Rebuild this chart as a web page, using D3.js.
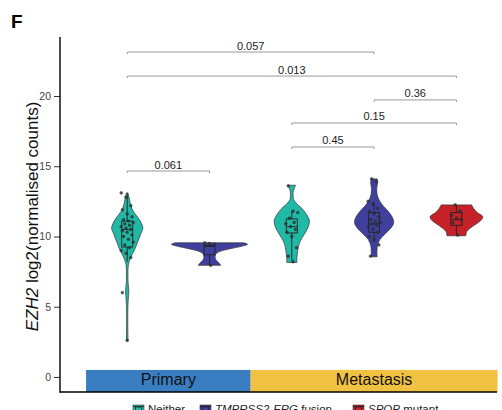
<!DOCTYPE html>
<html>
<head>
<meta charset="utf-8">
<script src="https://cdn.jsdelivr.net/npm/d3@7"></script>
<style>
  html, body { margin: 0; padding: 0; background: #fff; }
  svg { display: block; font-family: "Liberation Sans", Arial, sans-serif; }
</style>
</head>
<body>
<svg id="chart" width="502" height="410"></svg>
<script>
// ---- data ----
const groupTissue   = ["Primary", "Primary", "Metastasis", "Metastasis", "Metastasis"];
const groupGenotype = ["Neither", "TMPRSS2-ERG fusion", "Neither", "TMPRSS2-ERG fusion", "SPOP mutant"];
const tissues   = ["Primary", "Metastasis"];
const genotypes = ["Neither", "TMPRSS2-ERG fusion", "SPOP mutant"];
const yTicks = [0, 5, 10, 15, 20];

// violin density profiles: [value, relative density]
const densityPrimaryNeither = [[13.1,0.02],[12.6,0.06],[12.2,0.09],[11.8,0.15],[11.3,0.28],[10.9,0.36],[10.6,0.39],[10.2,0.34],[9.6,0.26],[9.1,0.19],[8.7,0.12],[8.3,0.06],[8.0,0.03],[7.5,0.018],[6.8,0.02],[6.1,0.04],[5.5,0.025],[4.5,0.015],[3.5,0.015],[2.6,0.02]];
const densityPrimaryFusion  = [[9.55,0.85],[9.45,0.95],[9.3,0.8],[9.15,0.55],[9.0,0.33],[8.85,0.2],[8.7,0.15],[8.5,0.14],[8.3,0.17],[8.1,0.24],[7.95,0.28]];
const densityMetNeither     = [[13.65,0.09],[13.4,0.06],[13.1,0.03],[12.7,0.04],[12.4,0.1],[12.0,0.25],[11.6,0.36],[11.1,0.44],[10.6,0.4],[10.1,0.3],[9.6,0.2],[9.2,0.16],[8.8,0.14],[8.4,0.125],[8.15,0.125]];
const densityMetFusion      = [[14.1,0.075],[13.8,0.085],[13.4,0.065],[13.0,0.075],[12.6,0.125],[12.2,0.22],[11.8,0.35],[11.4,0.45],[11.0,0.49],[10.6,0.42],[10.2,0.28],[9.8,0.15],[9.5,0.1],[9.2,0.075],[8.8,0.07],[8.55,0.075]];
const densityMetSpop        = [[12.25,0.38],[12.0,0.43],[11.7,0.52],[11.4,0.66],[11.2,0.63],[10.9,0.5],[10.6,0.35],[10.3,0.25],[10.05,0.235]];

// boxplot summaries: [lower whisker, q1, median, q3, upper whisker]
const boxStats = [
  [8.2, 9.25, 10.5, 11.1, 13.1],
  [7.95, 8.7, 9.3, 9.35, 9.55],
  [8.3, 10.25, 10.7, 11.25, 11.8],
  [9.6, 10.3, 10.9, 11.7, 12.5],
  [10.1, 10.8, 11.2, 11.7, 12.25]
];

// individual samples
const pointsPrimaryNeither = [13.1,12.8,12.2,11.9,11.6,11.4,11.2,11.1,11.0,10.9,10.8,10.7,10.6,10.5,10.4,10.3,10.1,10.0,9.8,9.6,9.4,9.2,9.0,8.8,8.5,6.0,2.6];
const pointsPrimaryFusion  = [9.55,9.5,9.45,9.35,7.95];
const pointsMetNeither     = [13.6,11.8,11.7,11.3,11.0,10.9,10.7,10.5,10.3,10.0,9.2,8.6,8.2];
const pointsMetFusion      = [14.1,13.9,12.5,12.3,12.0,11.8,11.6,11.4,11.2,11.1,11.0,10.9,10.8,10.7,10.5,10.3,10.0,9.8,9.4,8.6];
const pointsMetSpop        = [12.25,11.8,11.5,11.3,11.2,11.0,10.1];

// pairwise comparisons: [group a, group b, bracket height, p-value]
const comparisons = [
  [0, 1, 14.66, "0.061"],
  [2, 3, 16.37, "0.45"],
  [2, 4, 18.08, "0.15"],
  [3, 4, 19.72, "0.36"],
  [0, 4, 21.42, "0.013"],
  [0, 3, 23.13, "0.057"]
];

const densities = [densityPrimaryNeither, densityPrimaryFusion, densityMetNeither, densityMetFusion, densityMetSpop];
const points = [pointsPrimaryNeither, pointsPrimaryFusion, pointsMetNeither, pointsMetFusion, pointsMetSpop];

// ---- styling ----
const genotypeColor = d3.scaleOrdinal().domain(genotypes).range(["#20b9a5", "#3f409d", "#c52129"]);
const tissueColor = d3.scaleOrdinal().domain(tissues).range(["#3a7ec2", "#f1c142"]);

const svg = d3.select("#chart");
svg.append("rect").attr("width", 502).attr("height", 410).attr("fill", "#fff");

const panel = { left: 60, right: 497, top: 37, bottom: 392 };

const x = d3.scalePoint().domain(d3.range(groupTissue.length)).range([127.2, 456.4]);
const step = x.step();
const y = d3.scaleLinear().domain([-1.07, 24.2]).range([panel.bottom, panel.top]);
const w = d3.scaleLinear().domain([0, 1]).range([0, 40]);

// tissue strip along the bottom of the panel
tissues.forEach(t => {
  const idx = d3.range(groupTissue.length).filter(i => groupTissue[i] === t);
  const x0 = x(d3.min(idx)) - step / 2;
  const x1 = x(d3.max(idx)) + step / 2;
  svg.append("rect")
    .attr("x", x0).attr("width", x1 - x0)
    .attr("y", y(0.5)).attr("height", y(-1.07) - y(0.5))
    .attr("fill", tissueColor(t));
  svg.append("text")
    .attr("x", (x0 + x1) / 2).attr("y", y(-0.58))
    .attr("text-anchor", "middle")
    .attr("font-size", 16).attr("fill", "#111")
    .text(t);
});

// violins
const area = d3.area()
  .curve(d3.curveMonotoneY)
  .y(d => y(d[0]));

densities.forEach((dens, i) => {
  const cx = x(i);
  const a = area.x0(d => cx - w(d[1])).x1(d => cx + w(d[1]));
  svg.append("path")
    .attr("d", a(dens))
    .attr("fill", genotypeColor(groupGenotype[i]))
    .attr("stroke", "#333").attr("stroke-width", 0.7);
});

// boxplots
const boxW = 11;
boxStats.forEach((b, i) => {
  const cx = x(i);
  const g = svg.append("g").attr("stroke", "#222").attr("stroke-width", 0.9).attr("fill", "none");
  g.append("line").attr("x1", cx).attr("x2", cx).attr("y1", y(b[0])).attr("y2", y(b[1]));
  g.append("line").attr("x1", cx).attr("x2", cx).attr("y1", y(b[3])).attr("y2", y(b[4]));
  g.append("rect").attr("x", cx - boxW / 2).attr("width", boxW)
    .attr("y", y(b[3])).attr("height", y(b[1]) - y(b[3]));
  g.append("line").attr("x1", cx - boxW / 2).attr("x2", cx + boxW / 2)
    .attr("y1", y(b[2])).attr("y2", y(b[2]));
});

// jittered samples
const jitter = k => (((k * 37) % 11) - 5) / 5 * 6;
points.forEach((pts, i) => {
  const cx = x(i);
  svg.append("g").selectAll("circle").data(pts).join("circle")
    .attr("cx", (d, k) => cx + jitter(k + i * 3))
    .attr("cy", d => y(d))
    .attr("r", 1.4)
    .attr("fill", "#333").attr("fill-opacity", 0.8)
    .attr("stroke", "#222").attr("stroke-width", 0.4);
});

// significance brackets
comparisons.forEach(([a, b, h, label]) => {
  const xa = x(a), xb = x(b), yy = y(h);
  svg.append("path")
    .attr("d", `M${xa},${yy + 2}V${yy}H${xb}V${yy + 2}`)
    .attr("fill", "none").attr("stroke", "#999").attr("stroke-width", 1);
  svg.append("text")
    .attr("x", (xa + xb) / 2).attr("y", yy - 2.5)
    .attr("text-anchor", "middle")
    .attr("font-size", 11).attr("fill", "#222")
    .text(label);
});

// axes
const yAxis = d3.axisLeft(y).tickValues(yTicks).tickSize(6).tickPadding(3);
const gy = svg.append("g").attr("transform", `translate(${panel.left},0)`).call(yAxis);
gy.select(".domain").remove();
gy.selectAll(".tick line").attr("stroke", "#333");
gy.selectAll(".tick text").attr("font-size", 10.5).attr("fill", "#444")
  .attr("font-family", "Liberation Sans, Arial, sans-serif");

svg.append("line").attr("x1", panel.left).attr("x2", panel.left)
  .attr("y1", panel.top).attr("y2", panel.bottom + 0.7)
  .attr("stroke", "#000").attr("stroke-width", 1.4);
svg.append("line").attr("x1", panel.left).attr("x2", panel.right)
  .attr("y1", panel.bottom).attr("y2", panel.bottom)
  .attr("stroke", "#000").attr("stroke-width", 1.4);

// y axis title
const yt = svg.append("text")
  .attr("transform", `translate(38,${(panel.top + panel.bottom) / 2 + 2}) rotate(-90)`)
  .attr("text-anchor", "middle")
  .attr("font-size", 17).attr("fill", "#111");
yt.append("tspan").attr("font-style", "italic").text("EZH2");
yt.append("tspan").text(" log2(normalised counts)");

// panel tag
svg.append("text").attr("x", 11).attr("y", 28)
  .attr("font-size", 19).attr("font-weight", "bold").attr("fill", "#000")
  .text("F");

// legend
const legendItems = [
  { key: "Neither", x: 133, italic: "", rest: "Neither" },
  { key: "TMPRSS2-ERG fusion", x: 200, italic: "TMPRSS2-ERG", rest: " fusion" },
  { key: "SPOP mutant", x: 353, italic: "SPOP", rest: " mutant" }
];
legendItems.forEach(it => {
  const g = svg.append("g").attr("transform", `translate(${it.x},405)`);
  g.append("rect").attr("width", 11).attr("height", 11)
    .attr("fill", genotypeColor(it.key)).attr("stroke", "#333").attr("stroke-width", 0.6);
  g.append("rect").attr("x", 2.5).attr("y", 2).attr("width", 6).attr("height", 7)
    .attr("fill", "none").attr("stroke", "#222").attr("stroke-width", 0.8);
  g.append("line").attr("x1", 0).attr("x2", 11).attr("y1", 1.5).attr("y2", 1.5)
    .attr("stroke", "#222").attr("stroke-width", 0.8);
  const t = g.append("text").attr("x", 15).attr("y", 7.5)
    .attr("font-size", 11.5).attr("fill", "#222");
  if (it.italic) t.append("tspan").attr("font-style", "italic").text(it.italic);
  t.append("tspan").text(it.rest);
});
</script>
</body>
</html>
